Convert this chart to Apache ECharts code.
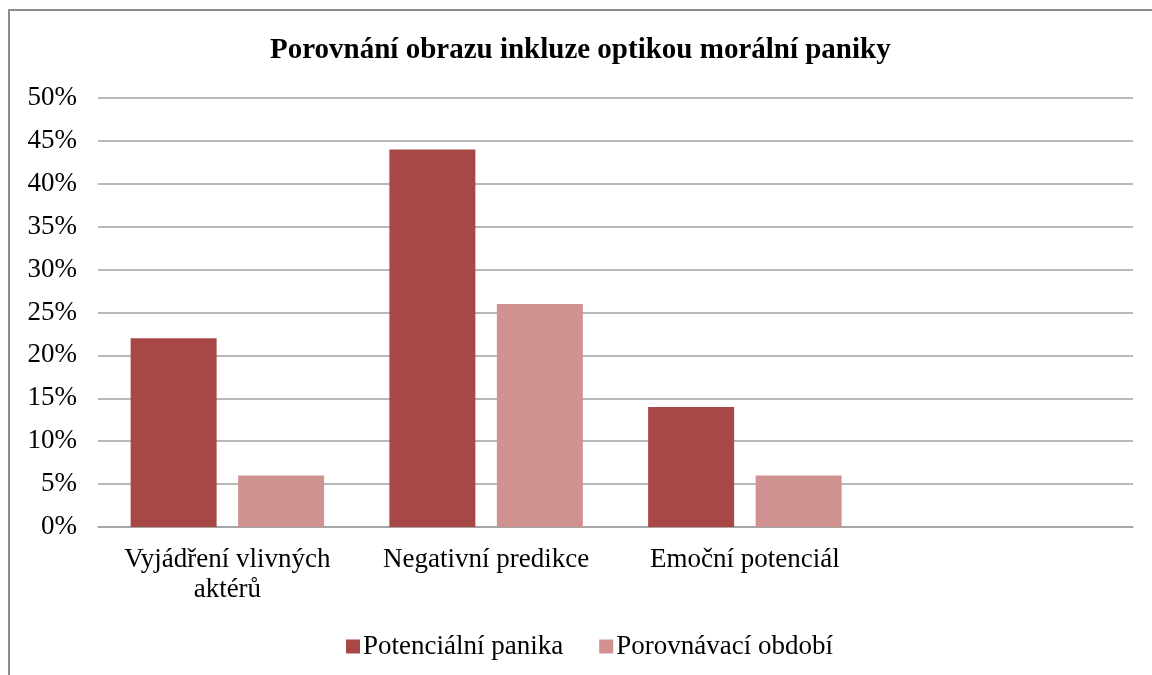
<!DOCTYPE html>
<html>
<head>
<meta charset="utf-8">
<script src="https://cdn.jsdelivr.net/npm/echarts@6/dist/echarts.min.js"></script>
<style>
  html, body { margin: 0; padding: 0; background: #fff; }
  #main { width: 1152px; height: 675px; }
</style>
</head>
<body>
<div id="main"></div>
<script>
/* data */
var categories = ['Vyjádření vlivných\naktérů', 'Negativní predikce', 'Emoční potenciál', ''];
var seriesNames = ['Potenciální panika', 'Porovnávací období'];
var paniky = [22, 44, 14, null];
var obdobi = [6, 26, 6, null];

var font = 'Liberation Serif, Times New Roman, serif';

var myChart = echarts.init(document.getElementById('main'));
myChart.setOption({
    backgroundColor: '#fff',
    animation: false,
    graphic: [{
        type: 'rect',
        shape: { x: 9, y: 10, width: 1200, height: 700 },
        style: { fill: 'none', stroke: '#8c8c8c', lineWidth: 2 }
    }],
    title: {
        text: 'Porovnání obrazu inkluze optikou morální paniky',
        left: 265,
        top: 31,
        textStyle: { fontFamily: font, fontSize: 29, fontWeight: 'bold', color: '#000' }
    },
    legend: {
        data: seriesNames,
        bottom: 10,
        left: 341,
        icon: 'rect',
        itemWidth: 14,
        itemHeight: 14,
        itemGap: 36,
        textStyle: { fontFamily: font, fontSize: 27, color: '#000', padding: [0, 0, 0, -2] }
    },
    grid: { left: 98, right: 19, top: 98, bottom: 148 },
    xAxis: {
        type: 'category',
        data: categories,
        axisLine: { lineStyle: { color: '#a0a0a0', width: 1.5 } },
        axisTick: { show: false },
        axisLabel: { fontFamily: font, fontSize: 27, color: '#000', margin: 18, lineHeight: 30, interval: 0 }
    },
    yAxis: {
        type: 'value',
        min: 0,
        max: 50,
        interval: 5,
        axisLine: { show: false },
        axisTick: { show: false },
        splitLine: { lineStyle: { color: '#a0a0a0', width: 1.5 } },
        axisLabel: {
            fontFamily: font, fontSize: 27, color: '#000', margin: 21,
            formatter: function (v) { return v + '%'; }
        }
    },
    series: [{
        name: seriesNames[0],
        type: 'bar',
        data: paniky,
        barWidth: 86,
        barGap: '25%',
        itemStyle: { color: '#a84846' }
    }, {
        name: seriesNames[1],
        type: 'bar',
        data: obdobi,
        barWidth: 86,
        itemStyle: { color: '#d09290' }
    }]
});
</script>
</body>
</html>
